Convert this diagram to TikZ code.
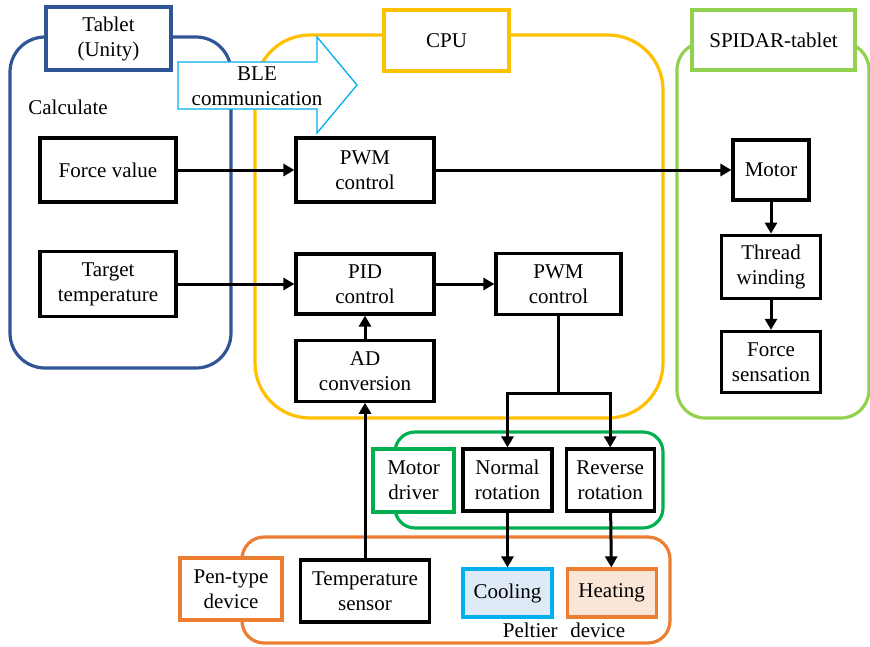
\documentclass[tikz,border=0pt]{standalone}
\usepackage{fontspec}
\setmainfont{Liberation Serif}
\usetikzlibrary{arrows.meta, positioning}

\definecolor{tabletblue}{HTML}{2F5597}
\definecolor{cpuyellow}{HTML}{FFC000}
\definecolor{spidargreen}{HTML}{92D050}
\definecolor{drivergreen}{HTML}{00B050}
\definecolor{penorange}{HTML}{ED7D31}
\definecolor{blecyan}{HTML}{00B0F0}
\definecolor{coolfill}{HTML}{DEEBF7}
\definecolor{heatfill}{HTML}{FBE5D6}

\begin{document}
\begin{tikzpicture}[
    x=1pt, y=-1pt,
    font=\fontsize{21}{25}\selectfont,
    every node/.style={align=center},
    arrow/.style={-{Triangle[length=11pt,width=12pt]}, line width=3pt},
]

% --- Style definitions ---
\tikzset{
    group/.style = {rectangle, line width=3.2pt, inner sep=0pt},
    titlebox/.style = {draw, fill=white, line width=3.6pt, inner sep=0pt},
    block/.style = {draw=black, fill=white, line width=3.2pt, inner sep=0pt},
    blearrow/.style = {draw=blecyan, fill=white, line width=1.3pt},
}

\useasboundingbox (0,0) rectangle (870,646);

% --- Groups ---
\node (tabletgrp) [group, draw=tabletblue, rounded corners=35pt,
    minimum width=221pt, minimum height=331pt] at (120.5,202.5) {};
\node (cpugrp) [group, draw=cpuyellow, rounded corners=55pt,
    minimum width=408pt, minimum height=383pt] at (459,226.5) {};
\node (spidargrp) [group, draw=spidargreen, rounded corners=28pt,
    minimum width=192pt, minimum height=376pt] at (773,230) {};
\node (drivergrp) [group, draw=drivergreen, rounded corners=20pt,
    minimum width=268pt, minimum height=96pt] at (529,480) {};
\node (pengrp) [group, draw=penorange, rounded corners=22pt,
    minimum width=428pt, minimum height=106pt] at (456,590) {};

% --- BLE link ---
\draw [blearrow] (178,62) -- (317,62) -- (317,37) -- (357,85)
    -- (317,133) -- (317,109) -- (178,109) -- cycle;
\node (ble) at (257,86) {BLE\\communication};

% --- Titles ---
\node (tablet) [titlebox, draw=tabletblue, minimum width=125pt, minimum height=63pt]
    at (108.5,38.5) {Tablet\\(Unity)};
\node (cpu) [titlebox, draw=cpuyellow, minimum width=125pt, minimum height=61pt]
    at (446.5,40.5) {CPU};
\node (spidar) [titlebox, draw=spidargreen, minimum width=163pt, minimum height=60pt]
    at (773.5,40) {SPIDAR-tablet};
\node (driver) [titlebox, draw=drivergreen, minimum width=81pt, minimum height=63pt]
    at (413.5,480.5) {Motor\\driver};
\node (pen) [titlebox, draw=penorange, minimum width=102pt, minimum height=62pt]
    at (231,589) {Pen-type\\device};

\node (calc) at (68,107) {Calculate};
\node (peltier) at (564,630) {Peltier\hspace{0.6em}device};

% --- Tablet side ---
\node (force) [block, minimum width=136pt, minimum height=64pt] at (108,170) {Force value};
\node (target) [block, minimum width=136pt, minimum height=65pt] at (108,284) {Target\\temperature};

% --- CPU side ---
\node (pwmA) [block, minimum width=138pt, minimum height=64pt] at (365,170) {PWM\\control};
\node (pid) [block, minimum width=138pt, minimum height=60pt] at (365,284) {PID\\control};
\node (adc) [block, minimum width=138pt, minimum height=61pt, below=23pt of pid] {AD\\conversion};
\node (pwmB) [block, minimum width=125pt, minimum height=61pt] at (558.5,284) {PWM\\control};

% --- SPIDAR side ---
\node (motor) [block, minimum width=76pt, minimum height=60pt] at (771,170) {Motor};
\node (thread) [block, minimum width=99pt, minimum height=63pt, below=32pt of motor] {Thread\\winding};
\node (forcesens) [block, minimum width=99pt, minimum height=61pt, below=30pt of thread] {Force\\sensation};

% --- Driver and pen device ---
\node (normal) [block, minimum width=89pt, minimum height=62pt] at (507.5,480) {Normal\\rotation};
\node (reverse) [block, minimum width=88pt, minimum height=62pt, right=11pt of normal] {Reverse\\rotation};
\node (tempsens) [block, minimum width=129pt, minimum height=62pt] at (365,591) {Temperature\\sensor};
\node (cooling) [block, draw=blecyan, fill=coolfill, minimum width=89pt, minimum height=48pt]
    at (507.5,593) {Cooling};
\node (heating) [block, draw=penorange, fill=heatfill, minimum width=89pt, minimum height=48pt,
    right=12pt of cooling] {Heating};

% --- Connectors ---
\draw [arrow] (force) -- (pwmA);
\draw [arrow] (pwmA) -- (motor);
\draw [arrow] (target) -- (pid);
\draw [arrow] (pid) -- (pwmB);
\draw [arrow] (adc) -- (pid);
\draw [arrow] (tempsens) -- (adc);
\draw [arrow] (motor) -- (thread);
\draw [arrow] (thread) -- (forcesens);

\coordinate (fork) at ([yshift=-77pt]pwmB.south);
\draw [arrow] (pwmB.south) -- (fork) -| (normal.north);
\draw [arrow] (fork) -| (reverse.north);
\draw [arrow] (normal) -- (cooling);
\draw [arrow] (reverse) -- (heating);

\end{tikzpicture}
\end{document}
